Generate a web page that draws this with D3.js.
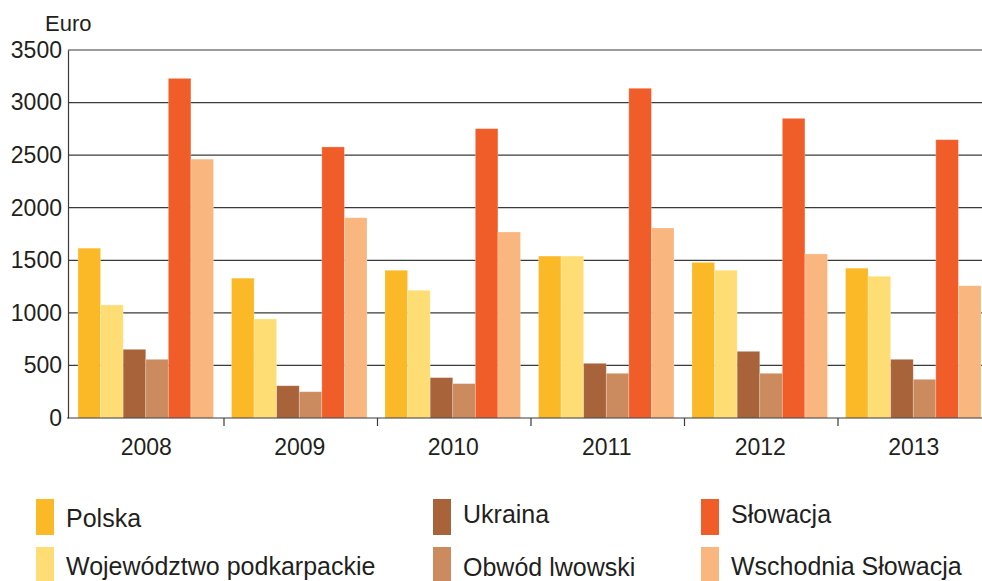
<!DOCTYPE html>
<html>
<head>
<meta charset="utf-8">
<script src="https://cdn.jsdelivr.net/npm/d3@7"></script>
<style>
  body { margin: 0; background: #fff; }
  text { font-family: "Liberation Sans", Arial, sans-serif; fill: #231f20; }
</style>
</head>
<body>
<script>
const years = ["2008", "2009", "2010", "2011", "2012", "2013"];
const seriesNames = ["Polska", "Województwo podkarpackie", "Ukraina", "Obwód lwowski", "Słowacja", "Wschodnia Słowacja"];
const polska = [1615, 1330, 1405, 1540, 1480, 1425];
const podkarpackie = [1075, 942, 1215, 1540, 1405, 1348];
const ukraina = [653, 307, 384, 520, 634, 558];
const lwowski = [558, 250, 327, 425, 425, 368];
const slowacja = [3230, 2578, 2752, 3136, 2850, 2647];
const wschodnia = [2462, 1905, 1769, 1807, 1560, 1258];
const yTicks = [0, 500, 1000, 1500, 2000, 2500, 3000, 3500];
const colors = ["#fbb827", "#fedd74", "#a8633b", "#cb8b5e", "#f15d29", "#fab67f"];

const allSeries = [polska, podkarpackie, ukraina, lwowski, slowacja, wschodnia];

const w = 982;
const h = 581;
const svg = d3.select("body")
              .append("svg")
              .attr("width", w)
              .attr("height", h);

const x0 = d3.scaleBand()
             .domain(years)
             .range([70.5, 991.5]);
const x1 = d3.scaleBand()
             .domain(seriesNames)
             .range([7.5, 143]);
const yScale = d3.scaleLinear()
                 .domain([0, 3500])
                 .range([418, 50]);

// gridlines
svg.append("g")
   .selectAll("line")
   .data(yTicks.slice(1))
   .enter()
   .append("line")
   .attr("x1", 68)
   .attr("x2", w)
   .attr("y1", d => yScale(d))
   .attr("y2", d => yScale(d))
   .attr("stroke", "#3a3a3a")
   .attr("stroke-width", 1.2);

// bars
const groups = svg.append("g")
   .selectAll("g")
   .data(years)
   .enter()
   .append("g")
   .attr("transform", d => "translate(" + x0(d) + ",0)");

groups.selectAll("rect")
   .data((d, i) => seriesNames.map((s, j) => ({ s: s, v: allSeries[j][i], c: colors[j] })))
   .enter()
   .append("rect")
   .attr("x", d => x1(d.s))
   .attr("y", d => yScale(d.v))
   .attr("width", x1.bandwidth())
   .attr("height", d => yScale(0) - yScale(d.v))
   .attr("fill", d => d.c)
   .attr("stroke", "#fff")
   .attr("stroke-opacity", 0.3)
   .attr("stroke-width", 0.8);

// y axis
const yAxis = d3.axisLeft(yScale)
                .tickValues(yTicks)
                .tickFormat(d3.format("d"))
                .tickSize(0)
                .tickPadding(6);
const yg = svg.append("g")
   .attr("transform", "translate(68,0)")
   .call(yAxis);
yg.select(".domain").attr("stroke", "#3a3a3a").attr("stroke-width", 1.2);
yg.selectAll("text")
  .style("font-size", "23px")
  .attr("fill", "#231f20")
  .attr("font-family", "Liberation Sans, Arial, sans-serif");

// x axis
svg.append("line")
   .attr("x1", 67)
   .attr("x2", w)
   .attr("y1", 418)
   .attr("y2", 418)
   .attr("stroke", "#3a3a3a")
   .attr("stroke-width", 1.2);
svg.append("g")
   .selectAll("line")
   .data(years.slice(1))
   .enter()
   .append("line")
   .attr("x1", d => x0(d))
   .attr("x2", d => x0(d))
   .attr("y1", 418)
   .attr("y2", 426)
   .attr("stroke", "#3a3a3a")
   .attr("stroke-width", 1.2);
svg.append("g")
   .selectAll("text")
   .data(years)
   .enter()
   .append("text")
   .attr("x", d => x0(d) + x0.bandwidth() / 2 - 1)
   .attr("y", 455)
   .attr("text-anchor", "middle")
   .style("font-size", "23px")
   .text(d => d);

svg.append("text")
   .attr("x", 45)
   .attr("y", 31)
   .style("font-size", "22px")
   .text("Euro");

// legend
const legendX = [36, 433, 701];
const legendY = [499, 547];
const legendBase = [[527, 575], [523, 576], [523, 575]];
const legend = svg.append("g")
   .selectAll("g")
   .data(seriesNames)
   .enter()
   .append("g");
legend.append("rect")
   .attr("x", (d, i) => legendX[Math.floor(i / 2)])
   .attr("y", (d, i) => legendY[i % 2])
   .attr("width", 18)
   .attr("height", 36)
   .attr("fill", (d, i) => colors[i]);
legend.append("text")
   .attr("x", (d, i) => legendX[Math.floor(i / 2)] + 30)
   .attr("y", (d, i) => legendBase[Math.floor(i / 2)][i % 2])
   .style("font-size", "25px")
   .text(d => d);
</script>
</body>
</html>
